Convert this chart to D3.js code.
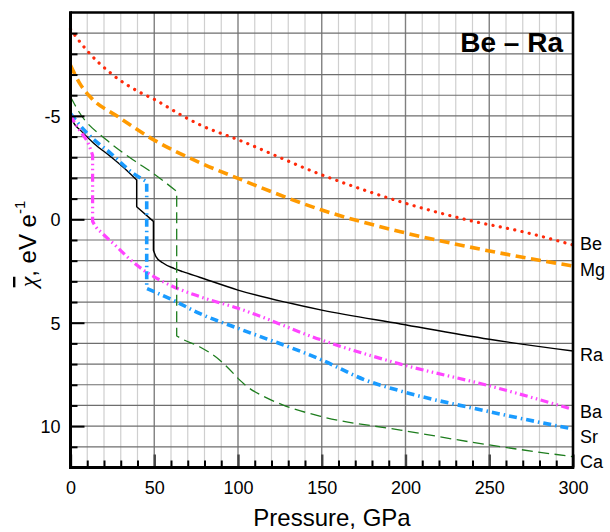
<!DOCTYPE html>
<html>
<head>
<meta charset="utf-8">
<script src="https://cdn.jsdelivr.net/npm/d3@7"></script>
<style>
  html, body { margin: 0; padding: 0; background: #fff; }
  svg { display: block; }
  text { font-family: "Liberation Sans", Arial, Helvetica, sans-serif; fill: #000; }
</style>
</head>
<body>
<svg id="chart" width="610" height="532"></svg>
<script>
// ---------- data (Pressure GPa, value) ----------
const xTicksMajor = [0, 50, 100, 150, 200, 250, 300];
const yTicksMajor = [-5, 0, 5, 10];
const yTickLabels = ["-5", "0", "5", "10"];

// each series is a list of smooth segments joined by straight vertical/linear jumps
const beSegments = [[[0,-9.2],[4,-8.75],[10,-8.15],[25,-7.0],[40,-6.2],[50,-5.8],[67,-5.0],[77,-4.58],[100,-3.85],[150,-2.15],[197,-0.85],[238,0.05],[270,0.6],[300,1.24]]];
const mgSegments = [[[0,-7.45],[5.7,-6.55],[12,-5.9],[28,-4.98],[50,-3.83],[77,-2.75],[100,-1.98],[150,-0.45],[197,0.6],[245,1.45],[300,2.26]]];
const raSegments = [
  [[0,-5.04],[2,-4.65],[6,-4.3],[14,-3.67],[24,-3.03],[32,-2.48],[39.5,-1.9]],
  [[39.5,-0.61],[49.5,0.1]],
  [[49.5,1.5],[51,1.8],[55,2.1],[62,2.38],[67,2.53],[77,2.8],[100,3.42],[150,4.39],[197,5.06],[250,5.8],[300,6.37]]
];
const srSegments = [
  [[0,-5.12],[5,-4.6],[12,-4.0],[24,-3.19],[37.5,-2.22],[45.5,-1.82]],
  [[45.5,3.34],[50,3.5],[61,3.9],[77,4.55],[100,5.27],[150,6.8],[176,7.77],[197,8.3],[250,9.3],[300,10.14]]
];
const baSegments = [
  [[0,-5.04],[3,-4.6],[6,-4.24],[10.6,-3.67],[13.2,-3.1]],
  [[13.2,0.1],[15,0.35],[18.6,0.65],[27.6,1.32],[35,1.9],[43.5,2.45],[50,2.78],[61.4,3.26],[77.3,3.74],[100,4.3],[150,5.84],[197,7.0],[250,8.05],[300,9.19]]
];
const caSegments = [
  [[0,-5.93],[5,-5.2],[21.6,-3.83],[37.5,-2.87],[49.4,-2.22],[63.4,-1.35]],
  [[63.4,5.64],[67,5.8],[77,6.16],[89,6.8],[100,7.69]],
  [[100,7.69],[105,8.06],[115,8.55],[127,8.98],[150,9.54],[197,10.19],[250,10.91],[300,11.48]]
];

const seriesNames = ["Be", "Mg", "Ra", "Sr", "Ba", "Ca"];
const seriesData = [beSegments, mgSegments, raSegments, srSegments, baSegments, caSegments];
const seriesColors = ["#ff2a0a", "#ff9a00", "#000000", "#1a9bff", "#ff44ff", "#1e7d1e"];
const seriesWidths = [3.2, 3.6, 1.4, 3.6, 3.2, 1.3];
const seriesDash = ["0.1 7.3", "10 5.5", null, "8 4 1.5 4", "8 3.5 1.5 3.5 1.5 3.5", "11 5.5"];
const labelY = [1.15, 2.45, 6.55, 10.5, 9.3, 11.72];

// ---------- chart ----------
const svg = d3.select("#chart");
const x = d3.scaleLinear().domain([0, 300]).range([70.5, 573]);
const y = d3.scaleLinear().domain([-10, 12]).range([12.5, 467.5]);

const grid = svg.append("g");
grid.selectAll("line.vminor").data(d3.range(10, 300, 10).filter(d => d % 50 !== 0))
  .join("line").attr("x1", d => x(d)).attr("x2", d => x(d))
  .attr("y1", y(-10)).attr("y2", y(12)).attr("stroke", "#cfcfcf").attr("stroke-width", 1.2);
grid.selectAll("line.vmajor").data([50, 100, 150, 200, 250])
  .join("line").attr("x1", d => x(d)).attr("x2", d => x(d))
  .attr("y1", y(-10)).attr("y2", y(12)).attr("stroke", "#808080").attr("stroke-width", 1.4);
grid.selectAll("line.h").data(d3.range(-9, 12, 1))
  .join("line").attr("x1", x(0)).attr("x2", x(300))
  .attr("y1", d => y(d)).attr("y2", d => y(d)).attr("stroke", "#6e6e6e").attr("stroke-width", 1.2);

// series
const lineGen = d3.line().x(d => x(d[0])).y(d => y(d[1])).curve(d3.curveMonotoneX);
function buildPath(segments) {
  let p = "";
  segments.forEach((seg, i) => {
    const s = lineGen(seg);
    p += (i === 0) ? s : s.replace(/^M/, "L");
  });
  return p;
}
const lines = svg.append("g");
seriesData.forEach((segs, i) => {
  const path = lines.append("path")
    .attr("d", buildPath(segs))
    .attr("fill", "none")
    .attr("stroke", seriesColors[i])
    .attr("stroke-width", seriesWidths[i])
    .attr("stroke-linejoin", "round")
    .attr("stroke-linecap", i === 0 ? "round" : "butt");
  if (seriesDash[i]) path.attr("stroke-dasharray", seriesDash[i]);
});

// axes ticks (inside)
const yMinor = svg.append("g").attr("transform", `translate(${x(0)},0)`)
  .call(d3.axisLeft(y).tickValues(d3.range(-9, 12, 1).filter(d => d % 5 !== 0)).tickSize(-7).tickFormat(""));
const yMajor = svg.append("g").attr("transform", `translate(${x(0)},0)`)
  .call(d3.axisLeft(y).tickValues(yTicksMajor).tickSize(-14).tickPadding(10)
    .tickFormat((d, i) => yTickLabels[i]));
const xMinor = svg.append("g").attr("transform", `translate(0,${y(12)})`)
  .call(d3.axisBottom(x).tickValues(d3.range(10, 300, 10).filter(d => d % 50 !== 0)).tickSize(-7).tickFormat(""));
const xMajor = svg.append("g").attr("transform", `translate(0,${y(12)})`)
  .call(d3.axisBottom(x).tickValues(xTicksMajor).tickSize(-13).tickPadding(14).tickFormat(d3.format("d")));
[yMinor, yMajor, xMinor, xMajor].forEach(g => {
  g.select(".domain").remove();
  g.selectAll(".tick line").attr("stroke", "#000").attr("stroke-width", 2);
  g.selectAll(".tick text").attr("font-size", 18).attr("font-family", "'Liberation Sans', Arial, sans-serif").attr("fill", "#000");
});
yMajor.selectAll(".tick text").attr("dy", "0.36em");
xMajor.selectAll(".tick line").attr("stroke", "#444").attr("stroke-width", 2.4);

// frame
const frame = svg.append("g").attr("stroke", "#000").attr("fill", "none");
frame.append("line").attr("x1", x(0)).attr("x2", x(300)).attr("y1", y(-10)).attr("y2", y(-10)).attr("stroke-width", 2.6);
frame.append("line").attr("x1", x(300)).attr("x2", x(300)).attr("y1", y(-10) - 1.3).attr("y2", y(12) + 1.5).attr("stroke-width", 2.6);
frame.append("line").attr("x1", x(0)).attr("x2", x(0)).attr("y1", y(-10) - 1.3).attr("y2", y(12) + 1.5).attr("stroke-width", 3);
frame.append("line").attr("x1", x(0) - 1.5).attr("x2", x(300)).attr("y1", y(12)).attr("y2", y(12)).attr("stroke-width", 3);

// title
svg.append("text").attr("x", 563).attr("y", 52).attr("text-anchor", "end")
  .attr("font-size", 28).attr("font-weight", "bold").text("Be – Ra");

// right labels
svg.append("g").selectAll("text").data(seriesNames).join("text")
  .attr("x", 580).attr("y", (d, i) => y(labelY[i])).attr("dy", "0.36em")
  .attr("font-size", 18).text(d => d);

// axis titles
svg.append("text").attr("x", 332).attr("y", 526).attr("text-anchor", "middle")
  .attr("font-size", 24).text("Pressure, GPa");

const yl = svg.append("text").attr("transform", "translate(36,244) rotate(-90)")
  .attr("text-anchor", "middle").attr("font-size", 24);
yl.append("tspan").attr("font-family", "'Liberation Serif', 'Times New Roman', serif")
  .attr("font-style", "italic").style("text-decoration", "overline").text("χ");
yl.append("tspan").text(", eV e");
yl.append("tspan").attr("font-size", 15).attr("dy", "-0.75em").text("-1");
</script>
</body>
</html>
